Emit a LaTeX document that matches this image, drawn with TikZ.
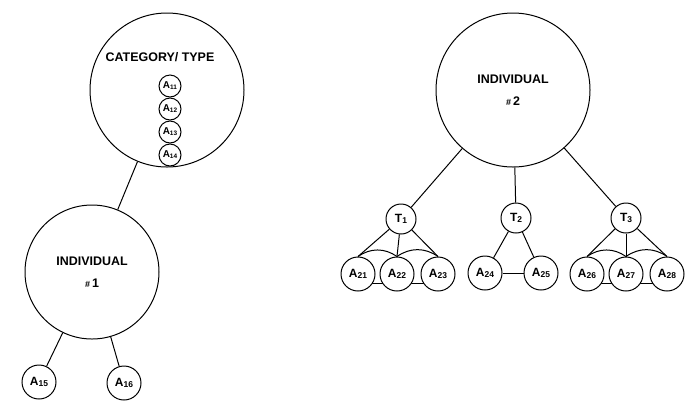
\documentclass[tikz,border=0pt]{standalone}
\usepackage{fontspec}
\setsansfont{Liberation Sans}
\usetikzlibrary{positioning}
\newcommand{\att}[3][8.5]{#2\raisebox{-0.2ex}{\fontsize{#1}{#1}\selectfont #3}}

\begin{document}
\begin{tikzpicture}[x=1bp,y=-1bp,line width=1pt,
	big/.style={circle,draw,fill=white,minimum size=154bp,inner sep=0pt,font=\sffamily\bfseries\fontsize{12.5}{14}\selectfont,align=center},
	mid/.style={circle,draw,fill=white,minimum size=34bp,inner sep=0pt,font=\sffamily\bfseries\fontsize{12}{12}\selectfont},
	tiny/.style={circle,draw,fill=white,minimum size=22bp,inner sep=0pt,font=\sffamily\bfseries\fontsize{10}{10}\selectfont}]
	\useasboundingbox (0,0) rectangle (692,411);
	
	% left side: category and individual 1
	\node (cat) [big] at (167,90) {};
	\node at (160,57) [font=\sffamily\bfseries\fontsize{12.5}{14}\selectfont] {CATEGORY/ TYPE};
	\node (a11) [tiny] at (170,86) {\att[6.5]{A}{11}};
	\node (a12) [tiny] at (170,109) {\att[6.5]{A}{12}};
	\node (a13) [tiny] at (170,132) {\att[6.5]{A}{13}};
	\node (a14) [tiny] at (170,155) {\att[6.5]{A}{14}};
	
	\node (ind1) [big,minimum size=134bp] at (92,272) {INDIVIDUAL\\[8bp]{\fontsize{9}{9}\selectfont\#}\,1};
	\node (a15) [mid] at (39,382) {\att{A}{15}};
	\node (a16) [mid] at (124,383) {\att{A}{16}};
	
	\draw (cat) -- (ind1);
	\draw (ind1) -- (a15);
	\draw (ind1) -- (a16);
	
	% right side: individual 2 with three types
	\node (ind2) [big] at (513,90) {INDIVIDUAL\\[8bp]{\fontsize{9}{9}\selectfont\#}\,2};
	\node (t1) [mid,minimum size=30bp] at (401,219) {\att{T}{1}};
	\node (t2) [mid,minimum size=30bp] at (516,218) {\att{T}{2}};
	\node (t3) [mid,minimum size=30bp] at (626,218) {\att{T}{3}};
	
	\draw (ind2) -- (t1);
	\draw (ind2) -- (t2);
	\draw (ind2) -- (t3);
	
	% type 1
	\draw (358,283) -- (438,283);
	\node (a21) [mid] at (358,274) {\att{A}{21}};
	\node (a22) [mid] at (397,274) {\att{A}{22}};
	\node (a23) [mid] at (438,274) {\att{A}{23}};
	\foreach \a in {a21,a22,a23}
		\draw (t1) -- (\a.north);
	\draw (a21.north) to[bend left=35] (a22.north);
	\draw (a22.north) to[bend left=35] (a23.north);
	
	% type 2
	\node (a24) [mid] at (485,273) {\att{A}{24}};
	\node (a25) [mid] at (541,273) {\att{A}{25}};
	\draw (t2) -- (a24);
	\draw (t2) -- (a25);
	\draw (a24) -- (a25);
	
	% type 3
	\draw (587,283) -- (667,283);
	\node (a26) [mid] at (587,274) {\att{A}{26}};
	\node (a27) [mid] at (626,274) {\att{A}{27}};
	\node (a28) [mid] at (667,274) {\att{A}{28}};
	\foreach \a in {a26,a27,a28}
		\draw (t3) -- (\a.north);
	\draw (a26.north) to[bend left=35] (a27.north);
	\draw (a27.north) to[bend left=35] (a28.north);
	
\end{tikzpicture}
\end{document}
